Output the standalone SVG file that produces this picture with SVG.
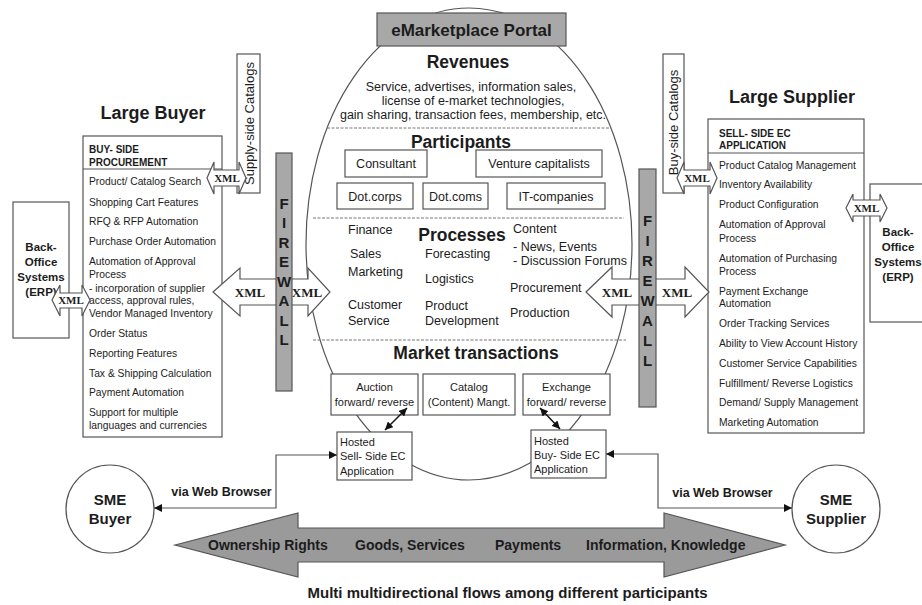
<svg xmlns="http://www.w3.org/2000/svg" width="922" height="605" viewBox="0 0 922 605">
<defs>
<style>
text{font-family:"Liberation Sans",Arial,sans-serif;fill:#1c1c1c}
.box{fill:#fff;stroke:#555;stroke-width:1.2}
.gray{fill:#a8a8a8;stroke:#555;stroke-width:1.2}
.it{font-size:10.3px}
.hd{font-size:10px;font-weight:bold}
.b{font-weight:bold}
.t17{font-size:17.5px;font-weight:bold}
.t12{font-size:12.5px}
.t11{font-size:11px}
.mid{text-anchor:middle}
.xml{font-family:"Liberation Serif","Times New Roman",serif;font-weight:bold;text-anchor:middle}
.fw{font-size:15px;font-weight:bold;text-anchor:middle}
.dash{stroke:#777;stroke-width:1;stroke-dasharray:3 1.5;fill:none}
.ln{fill:none;stroke:#555;stroke-width:1.2}
.xa{fill:#fff;stroke:#555;stroke-width:1.2}
</style>
<marker id="ah" viewBox="0 0 10 10" refX="10" refY="5" markerWidth="8" markerHeight="8" orient="auto-start-reverse" markerUnits="userSpaceOnUse">
<path d="M0,0 L10,5 L0,10 Z" fill="#111"/>
</marker>
</defs>
<rect width="922" height="605" fill="#fff"/>

<g id="portal">
<ellipse cx="469" cy="244" rx="163" ry="236" class="box"/>
<line x1="327" y1="128" x2="611" y2="128" class="dash"/>
<line x1="313" y1="218" x2="624" y2="218" class="dash"/>
<line x1="313" y1="340" x2="626" y2="340" class="dash"/>
<text x="468" y="68" class="t17 mid">Revenues</text>
<text x="471" y="91.4" class="t12 mid">Service, advertises, information sales,</text>
<text x="473" y="105.4" class="t12 mid">license of e-market technologies,</text>
<text x="473" y="119.4" class="t12 mid">gain sharing, transaction fees, membership, etc.</text>
<text x="461" y="148" class="t17 mid">Participants</text>
<text x="462" y="241" class="t17 mid">Processes</text>
<text x="348" y="234.4" class="t12">Finance</text>
<text x="513" y="233.4" class="t12">Content</text>
<text x="513" y="251.4" class="t12">- News, Events</text>
<text x="513" y="265.4" class="t12">- Discussion Forums</text>
<text x="350" y="258.4" class="t12">Sales</text>
<text x="425" y="258.4" class="t12">Forecasting</text>
<text x="348" y="276.4" class="t12">Marketing</text>
<text x="425" y="283.4" class="t12">Logistics</text>
<text x="510" y="292.4" class="t12">Procurement</text>
<text x="348" y="309.4" class="t12">Customer</text>
<text x="348" y="325.4" class="t12">Service</text>
<text x="425" y="310.4" class="t12">Product</text>
<text x="425" y="325.4" class="t12">Development</text>
<text x="510" y="317.4" class="t12">Production</text>
<text x="476" y="359" class="t17 mid">Market transactions</text>
</g>

<g id="portal-title">
<rect x="377" y="13" width="189" height="33" class="gray"/>
<text x="471.5" y="36" class="mid b" font-size="17">eMarketplace Portal</text>
</g>

<g id="participant-consultant"><rect x="345" y="150" width="82" height="27" class="box"/><text x="386" y="168" class="t12 mid">Consultant</text></g>
<g id="participant-venture"><rect x="476" y="150" width="126" height="27" class="box"/><text x="539" y="168" class="t12 mid">Venture capitalists</text></g>
<g id="participant-dotcorps"><rect x="337" y="183" width="76" height="26" class="box"/><text x="375" y="200.5" class="t12 mid">Dot.corps</text></g>
<g id="participant-dotcoms"><rect x="423" y="183" width="65" height="26" class="box"/><text x="455.5" y="200.5" class="t12 mid">Dot.coms</text></g>
<g id="participant-it"><rect x="507" y="183" width="98" height="26" class="box"/><text x="556" y="200.5" class="t12 mid">IT-companies</text></g>

<g id="tx-auction"><rect x="331" y="374" width="87" height="41" class="box"/><text x="374.5" y="391" class="t11 mid">Auction</text><text x="374.5" y="406" class="t11 mid">forward/ reverse</text></g>
<g id="tx-catalog"><rect x="423" y="374" width="92" height="41" class="box"/><text x="469" y="391" class="t11 mid">Catalog</text><text x="469" y="406" class="t11 mid">(Content) Mangt.</text></g>
<g id="tx-exchange"><rect x="523" y="374" width="87" height="41" class="box"/><text x="566.5" y="391" class="t11 mid">Exchange</text><text x="566.5" y="406" class="t11 mid">forward/ reverse</text></g>

<g id="hosted-sell"><rect x="337" y="432" width="75" height="48" class="box"/><text x="340" y="446" class="t11">Hosted</text><text x="340" y="460" class="t11">Sell- Side EC</text><text x="340" y="475" class="t11">Application</text></g>
<g id="hosted-buy"><rect x="531" y="430" width="75" height="48" class="box"/><text x="534" y="445" class="t11">Hosted</text><text x="534" y="459" class="t11">Buy- Side EC</text><text x="534" y="473" class="t11">Application</text></g>

<g id="large-buyer">
<text x="153" y="119" class="mid b" font-size="18">Large Buyer</text>
<rect x="83" y="136" width="139" height="301" class="box"/>
<line x1="83" y1="169" x2="222" y2="169" class="ln"/>
<text x="89" y="152.5" class="hd">BUY- SIDE</text>
<text x="89" y="165.5" class="hd">PROCUREMENT</text>
<text x="89" y="184.7" class="it">Product/ Catalog Search</text>
<text x="89" y="205.7" class="it">Shopping Cart Features</text>
<text x="89" y="224.7" class="it">RFQ &amp; RFP Automation</text>
<text x="89" y="244.7" class="it">Purchase Order Automation</text>
<text x="89" y="264.7" class="it">Automation of Approval</text>
<text x="89" y="277.7" class="it">Process</text>
<text x="89" y="291.7" class="it">- incorporation of supplier</text>
<text x="89" y="303.7" class="it">access, approval rules,</text>
<text x="89" y="316.7" class="it">Vendor Managed Inventory</text>
<text x="89" y="336.7" class="it">Order Status</text>
<text x="89" y="356.7" class="it">Reporting Features</text>
<text x="89" y="376.7" class="it">Tax &amp; Shipping Calculation</text>
<text x="89" y="395.7" class="it">Payment Automation</text>
<text x="89" y="415.7" class="it">Support for multiple</text>
<text x="89" y="428.7" class="it">languages and currencies</text>
</g>

<g id="supply-catalogs">
<rect x="237" y="54" width="23" height="139" class="box"/>
<text transform="translate(253.5,123.5) rotate(-90)" class="mid" font-size="13">Supply-side Catalogs</text>
</g>

<g id="backoffice-left">
<rect x="13" y="202" width="56" height="136" class="box"/>
<text x="41" y="251" class="mid b" font-size="11.5">Back-</text>
<text x="41" y="266" class="mid b" font-size="11.5">Office</text>
<text x="41" y="281" class="mid b" font-size="11.5">Systems</text>
<text x="41" y="296" class="mid b" font-size="11.5">(ERP)</text>
</g>

<g id="large-supplier">
<text x="792" y="103" class="mid b" font-size="18">Large Supplier</text>
<rect x="708" y="119" width="156" height="314" class="box"/>
<line x1="708" y1="153" x2="864" y2="153" class="ln"/>
<text x="719" y="136.5" class="hd">SELL- SIDE EC</text>
<text x="719" y="148.5" class="hd">APPLICATION</text>
<text x="719" y="168.7" class="it">Product Catalog Management</text>
<text x="719" y="187.7" class="it">Inventory Availability</text>
<text x="719" y="207.7" class="it">Product Configuration</text>
<text x="719" y="227.7" class="it">Automation of Approval</text>
<text x="719" y="241.7" class="it">Process</text>
<text x="719" y="261.7" class="it">Automation of Purchasing</text>
<text x="719" y="274.7" class="it">Process</text>
<text x="719" y="294.7" class="it">Payment Exchange</text>
<text x="719" y="306.7" class="it">Automation</text>
<text x="719" y="326.7" class="it">Order Tracking Services</text>
<text x="719" y="346.7" class="it">Ability to View Account History</text>
<text x="719" y="366.7" class="it">Customer Service Capabilities</text>
<text x="719" y="386.7" class="it">Fulfillment/ Reverse Logistics</text>
<text x="719" y="405.7" class="it">Demand/ Supply Management</text>
<text x="719" y="425.7" class="it">Marketing Automation</text>
</g>

<g id="buy-catalogs">
<rect x="663" y="54" width="21" height="139" class="box"/>
<text transform="translate(678,122.5) rotate(-90)" class="mid" font-size="13">Buy-side Catalogs</text>
</g>

<g id="backoffice-right">
<rect x="870" y="184" width="70" height="138" class="box"/>
<text x="898" y="236" class="mid b" font-size="11.5">Back-</text>
<text x="898" y="251" class="mid b" font-size="11.5">Office</text>
<text x="898" y="266" class="mid b" font-size="11.5">Systems</text>
<text x="898" y="281" class="mid b" font-size="11.5">(ERP)</text>
</g>

<g id="sme-buyer">
<circle cx="110" cy="509" r="44" class="box"/>
<text x="110" y="505" class="mid b" font-size="15">SME</text>
<text x="110" y="524" class="mid b" font-size="15">Buyer</text>
</g>
<g id="sme-supplier">
<circle cx="836" cy="509" r="44" class="box"/>
<text x="836" y="505" class="mid b" font-size="15">SME</text>
<text x="836" y="524" class="mid b" font-size="15">Supplier</text>
</g>

<g id="connectors">
<path d="M337,455 L276,455 L276,508 L154,508" class="ln" marker-start="url(#ah)" marker-end="url(#ah)"/>
<path d="M606,454 L658,454 L658,508 L792,508" class="ln" marker-start="url(#ah)" marker-end="url(#ah)"/>
<line x1="407" y1="408" x2="385" y2="430" stroke="#111" stroke-width="1.5" marker-start="url(#ah)" marker-end="url(#ah)"/>
<line x1="540" y1="408" x2="560" y2="429" stroke="#111" stroke-width="1.5" marker-start="url(#ah)" marker-end="url(#ah)"/>
<text x="221.5" y="496.4" class="mid b" font-size="12.5">via Web Browser</text>
<text x="722.5" y="497" class="mid b" font-size="12.5">via Web Browser</text>

<path d="M207,178 L214,162 L214,170 L239,170 L239,162 L246,178 L239,194 L239,186 L214,186 L214,194 Z" class="xa"/>
<text x="227" y="182" class="xml" font-size="11">XML</text>
<path d="M677,178 L684,162 L684,170 L710,170 L710,162 L717,178 L710,194 L710,186 L684,186 L684,194 Z" class="xa"/>
<text x="697" y="182" class="xml" font-size="11">XML</text>
<path d="M52,300 L60,285 L60,293 L82,293 L82,285 L90,300 L82,316 L82,308 L60,308 L60,316 Z" class="xa"/>
<text x="71" y="304" class="xml" font-size="11">XML</text>
<path d="M846,208 L853,194 L853,200 L880,200 L880,194 L887,208 L880,222 L880,216 L853,216 L853,222 Z" class="xa"/>
<text x="866.5" y="212" class="xml" font-size="11">XML</text>

<path d="M213,292 L240,268 L240,279 L308,279 L308,268 L330,292 L308,316 L308,305 L240,305 L240,316 Z" class="xa"/>
<text x="250" y="296.5" class="xml" font-size="13">XML</text>
<text x="307" y="296.5" class="xml" font-size="13">XML</text>
<path d="M586,292 L612,267 L612,279 L685,279 L685,267 L709,292 L685,317 L685,305 L612,305 L612,317 Z" class="xa"/>
<text x="617" y="296.5" class="xml" font-size="13">XML</text>
<text x="677" y="296.5" class="xml" font-size="13">XML</text>

<path d="M175,545 L298,513 L298,528 L664,528 L664,513 L785,545 L664,577 L664,562 L298,562 L298,577 Z" fill="#9a9a9a" stroke="#555" stroke-width="1.2"/>
<text x="208" y="550" class="b" font-size="14">Ownership Rights</text>
<text x="355" y="550" class="b" font-size="14">Goods, Services</text>
<text x="495" y="550" class="b" font-size="14">Payments</text>
<text x="586" y="550" class="b" font-size="14">Information, Knowledge</text>
<text x="507.5" y="598" class="mid b" font-size="15">Multi multidirectional flows among different participants</text>
</g>

<g id="firewall-left">
<rect x="276" y="153" width="16" height="238" class="gray"/>
<text x="284" y="208.5" class="fw">F</text>
<text x="284" y="228" class="fw">I</text>
<text x="284" y="247.5" class="fw">R</text>
<text x="284" y="267" class="fw">E</text>
<text x="284" y="286.5" class="fw">W</text>
<text x="284" y="306" class="fw">A</text>
<text x="284" y="325.5" class="fw">L</text>
<text x="284" y="345" class="fw">L</text>
</g>
<g id="firewall-right">
<rect x="639" y="169" width="17" height="238" class="gray"/>
<text x="647.5" y="225.5" class="fw">F</text>
<text x="647.5" y="245.5" class="fw">I</text>
<text x="647.5" y="265.5" class="fw">R</text>
<text x="647.5" y="285.5" class="fw">E</text>
<text x="647.5" y="305.5" class="fw">W</text>
<text x="647.5" y="325.5" class="fw">A</text>
<text x="647.5" y="345.5" class="fw">L</text>
<text x="647.5" y="365.5" class="fw">L</text>
</g>
</svg>
